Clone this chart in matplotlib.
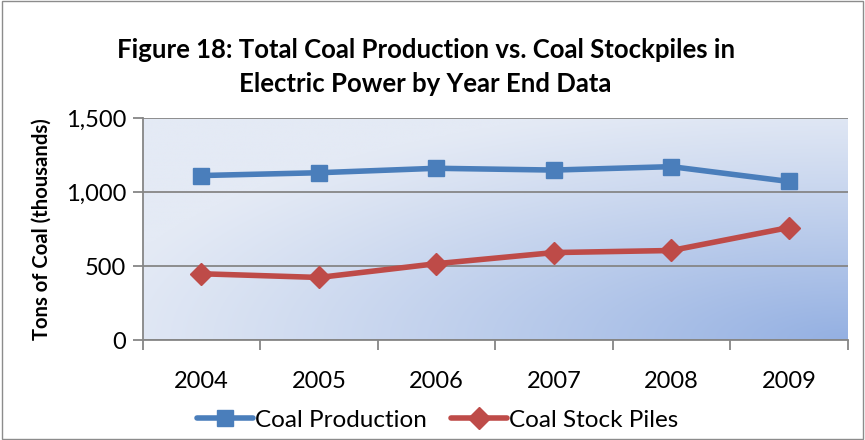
import matplotlib
matplotlib.use("Agg")
import matplotlib.pyplot as plt
import numpy as np
from matplotlib.patches import Rectangle

years = ["2004", "2005", "2006", "2007", "2008", "2009"]
production = [1111, 1130, 1160, 1148, 1171, 1071]
stockpiles = [448, 423, 516, 591, 605, 760]
yticks = [0, 500, 1000, 1500]
ytick_labels = ["0", "500", "1,000", "1,500"]

plt.rcParams['font.family'] = ['Lato', 'DejaVu Sans']

fig = plt.figure(figsize=(8.65, 4.40), dpi=100)
fig.patch.set_facecolor("white")
fig.add_artist(Rectangle((0.002, 0.002), 0.996, 0.996, transform=fig.transFigure,
                         fill=False, edgecolor="#8c8c8c", linewidth=1.0))

ax = fig.add_axes([0.165, 0.227, 0.815, 0.505])

# radial gradient background centred on bottom-right corner
n = 300
xx, yy = np.meshgrid(np.linspace(0, 1, n), np.linspace(0, 1, n))  # yy=0 top row
d = np.sqrt((1 - xx) ** 2 + (1 - yy) ** 2)
t = np.clip(1 - d / 1.08, 0, 1) ** 1.1
c0 = np.array([0xe4, 0xea, 0xf5]) / 255
c1 = np.array([0x94, 0xb0, 0xe2]) / 255
img = c0[None, None, :] * (1 - t[..., None]) + c1[None, None, :] * t[..., None]
ax.imshow(img, extent=[0, 1, 0, 1], transform=ax.transAxes, aspect="auto",
          origin="upper", zorder=0)

x = np.arange(len(years))
ax.plot(x, production, color="#4a7ebb", linewidth=4, marker="s", markersize=11,
        label="Coal Production", zorder=3, solid_capstyle="round")
ax.plot(x, stockpiles, color="#be4b48", linewidth=4, marker="D", markersize=11,
        label="Coal Stock Piles", zorder=3, solid_capstyle="round")

ax.set_xlim(-0.5, len(years) - 0.5)
ax.set_ylim(0, 1500)
ax.set_yticks(yticks)
ax.set_yticklabels(ytick_labels)
ax.set_xticks(x)
ax.set_xticklabels(years)
ax.set_xticks(np.arange(-0.5, len(years), 1.0), minor=True)
ax.tick_params(axis="x", which="major", length=0, pad=22, labelsize=17)
ax.tick_params(axis="x", which="minor", length=7, direction="out", color="#868686", width=1.3)
ax.tick_params(axis="y", length=7, direction="out", color="#868686", width=1.3, labelsize=17, pad=5)

ax.grid(axis="y", color="#868686", linewidth=1.3, zorder=1)
ax.set_axisbelow(False)
for s in ["top", "right"]:
    ax.spines[s].set_visible(False)
for s in ["left", "bottom"]:
    ax.spines[s].set_color("#868686")
    ax.spines[s].set_linewidth(1.3)

ax.set_ylabel("Tons of Coal (thousands)", fontsize=14.6, fontweight="bold", labelpad=10)

fig.text(0.492, 0.848, "Figure 18: Total Coal Production vs. Coal Stockpiles in\nElectric Power by Year End Data",
         ha="center", va="center", fontsize=18.5, fontweight="bold", linespacing=1.5)

leg = fig.legend(loc="center", bbox_to_anchor=(0.506, 0.045), ncol=2, frameon=False,
                 fontsize=17.5, handlelength=2.3, columnspacing=1.0, handletextpad=0.1)

fig.savefig("out.png", dpi=100)
